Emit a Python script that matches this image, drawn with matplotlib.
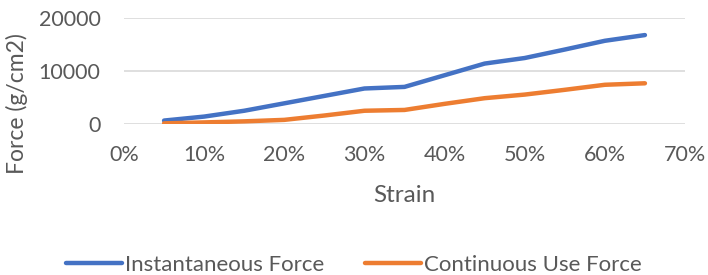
import matplotlib.pyplot as plt
from matplotlib.ticker import PercentFormatter

# data
strain = [0.05, 0.10, 0.15, 0.20, 0.25, 0.30, 0.35, 0.40, 0.45, 0.50, 0.55, 0.60, 0.65]
instantaneous = [650, 1400, 2500, 3900, 5300, 6700, 7000, 9200, 11400, 12450, 14050, 15700, 16780]
continuous = [120, 300, 500, 780, 1600, 2500, 2650, 3800, 4870, 5550, 6450, 7400, 7680]

plt.rcParams['font.family'] = ['Lato', 'DejaVu Sans']
grey = '#595959'

fig = plt.figure(figsize=(7.08, 2.75), dpi=100)
# plot area in pixels: x 124..685, y 18..124
ax = fig.add_axes([124 / 708, 1 - 124 / 275, (685 - 124) / 708, (124 - 18) / 275])

ax.plot(strain, instantaneous, color='#4472C4', lw=3.2, solid_capstyle='round',
        solid_joinstyle='round', label='Instantaneous Force')
ax.plot(strain, continuous, color='#ED7D31', lw=3.2, solid_capstyle='round',
        solid_joinstyle='round', label='Continuous Use Force')

ax.set_xlim(0, 0.70)
ax.set_ylim(0, 20000)
ax.set_xticks([0, 0.1, 0.2, 0.3, 0.4, 0.5, 0.6, 0.7])
ax.set_yticks([0, 10000, 20000])
ax.xaxis.set_major_formatter(PercentFormatter(1.0, decimals=0))
ax.grid(axis='y', color='#D9D9D9', lw=1.2)
ax.set_axisbelow(True)
for s in ax.spines.values():
    s.set_visible(False)
ax.tick_params(length=0, labelsize=15.5, colors=grey)
ax.tick_params(axis='y', pad=17)
ax.tick_params(axis='x', pad=15)

ax.set_xlabel('Strain', fontsize=17.5, color=grey)
ax.xaxis.set_label_coords(0.5, -0.58)
ax.set_ylabel('Force (g/cm2)', fontsize=16.5, color=grey)
ax.yaxis.set_label_coords(-0.172, 0.19)

fig.legend(loc='center', bbox_to_anchor=(0.5, 1 - 265 / 275), ncol=2, frameon=False,
           fontsize=16, labelcolor=grey, handlelength=2.5, handletextpad=0.15,
           columnspacing=1.85)

fig.savefig('out.png', dpi=100)
